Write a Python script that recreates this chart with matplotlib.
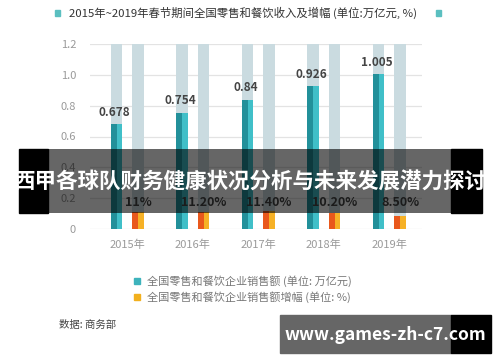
import numpy as np
import matplotlib
matplotlib.use('Agg')
import matplotlib.pyplot as plt
from matplotlib.patches import Rectangle

plt.rcParams['font.family'] = ['Noto Sans CJK SC', 'DejaVu Sans']

years = ['2015年', '2016年', '2017年', '2018年', '2019年']
sales = [0.678, 0.754, 0.84, 0.926, 1.005]
growth = [11.0, 11.2, 11.4, 10.2, 8.5]
growth_labels = ['11%', '11.20%', '11.40%', '10.20%', '8.50%']
ticks = [0, 0.2, 0.4, 0.6, 0.8, 1.0, 1.2]
tick_labels = ['0', '0.2', '0.4', '0.6', '0.8', '1.0', '1.2']

W, H = 500, 362
fig = plt.figure(figsize=(5, 3.62), dpi=100)
fig.patch.set_facecolor('white')

# plot area in pixels: x 90..422, y 44..229
ax = fig.add_axes([90 / W, (H - 229) / H, 332 / W, 185 / H])
x = np.arange(len(years))
off = 0.164
bw = 0.176
hw = bw / 2

ax.set_xlim(-0.57, 4.5)
ax.set_ylim(0, 1.2)
for t in ticks:
    ax.axhline(t, color='#e3e3e3', lw=0.9, zorder=0)

# grey background bars
ax.bar(x - off, 1.2, bw, color='#cadbe0', zorder=1)
ax.bar(x + off, 1.2, bw, color='#cadbe0', zorder=1)
# teal sales bars (two tone)
ax.bar(x - off - hw / 2, sales, hw, color='#22909a', zorder=2)
ax.bar(x - off + hw / 2, sales, hw, color='#40bfc8', zorder=2)
# orange growth bars (two tone)
g = np.array(growth) / 100
ax.bar(x + off - hw / 2, g, hw, color='#e9581c', zorder=2)
ax.bar(x + off + hw / 2, g, hw, color='#f6b126', zorder=2)

for i in range(len(years)):
    ax.annotate(f'{sales[i]:g}', (x[i] - off - 0.03, sales[i]), xytext=(0, 4),
                textcoords='offset points', ha='center', va='bottom',
                fontsize=8.5, color='#444444', fontweight='bold')
    ax.text(x[i] + off, 0.17, growth_labels[i], ha='center', va='center',
            fontsize=9, color='#444444', fontweight='bold', zorder=3)

ax.set_yticks(ticks)
ax.set_yticklabels(tick_labels, color='#9a9a9a', fontsize=8)
ax.set_xticks(x)
ax.set_xticklabels(years, color='#9a9a9a', fontsize=8)
ax.tick_params(length=0, pad=8)
ax.tick_params(axis='y', pad=10)
for s in ax.spines.values():
    s.set_visible(False)

# title
fig.text(69 / W, 1 - 13 / H, '2015年~2019年春节期间全国零售和餐饮收入及增幅 (单位:万亿元, %)',
         fontsize=8.2, color='#333333', va='center', ha='left')
for px in (57, 438):
    fig.patches.append(Rectangle(((px - 2.5) / W, 1 - 15.5 / H), 5 / W, 5 / H,
                                 transform=fig.transFigure, color='#5bbfc0', figure=fig))

# legend
leg = [('#3db3bc', '全国零售和餐饮企业销售额 (单位: 万亿元)', 281),
       ('#f2b01e', '全国零售和餐饮企业销售额增幅 (单位: %)', 297)]
for c, txt, py in leg:
    fig.patches.append(Rectangle((134 / W, 1 - (py + 3) / H), 6 / W, 6 / H,
                                 transform=fig.transFigure, color=c, figure=fig))
    fig.text(147 / W, 1 - py / H, txt, fontsize=8, color='#777777', va='center', ha='left')

fig.text(59 / W, 1 - 325 / H, '数据: 商务部', fontsize=7.5, color='#444444', va='center', ha='left')

# overlay banner
fig.patches.append(Rectangle((19 / W, 1 - 213 / H), 29 / W, 64 / H,
                             transform=fig.transFigure, color='black', figure=fig, zorder=10))
fig.patches.append(Rectangle((451 / W, 1 - 213 / H), 31 / W, 64 / H,
                             transform=fig.transFigure, color='black', figure=fig, zorder=10))
fig.patches.append(Rectangle((48 / W, 1 - 213 / H), 403 / W, 64 / H,
                             transform=fig.transFigure, facecolor='black', alpha=0.6,
                             edgecolor='none', figure=fig, zorder=10))
fig.text(250 / W, 1 - 182 / H, '西甲各球队财务健康状况分析与未来发展潜力探讨',
         fontsize=15.5, color='white', fontweight='bold', va='center', ha='center', zorder=11)

# watermark
fig.patches.append(Rectangle((280 / W, 1 - 353 / H), 171 / W, 38 / H,
                             transform=fig.transFigure, color='#666666', figure=fig, zorder=10))
fig.patches.append(Rectangle((451 / W, 1 - 353 / H), 40 / W, 38 / H,
                             transform=fig.transFigure, color='black', figure=fig, zorder=10))
fig.text(385 / W, 1 - 335 / H, 'www.games-zh-c7.com', fontsize=12.5, color='white',
         fontweight='bold', va='center', ha='center', zorder=11)

fig.savefig('out.png', dpi=100)
